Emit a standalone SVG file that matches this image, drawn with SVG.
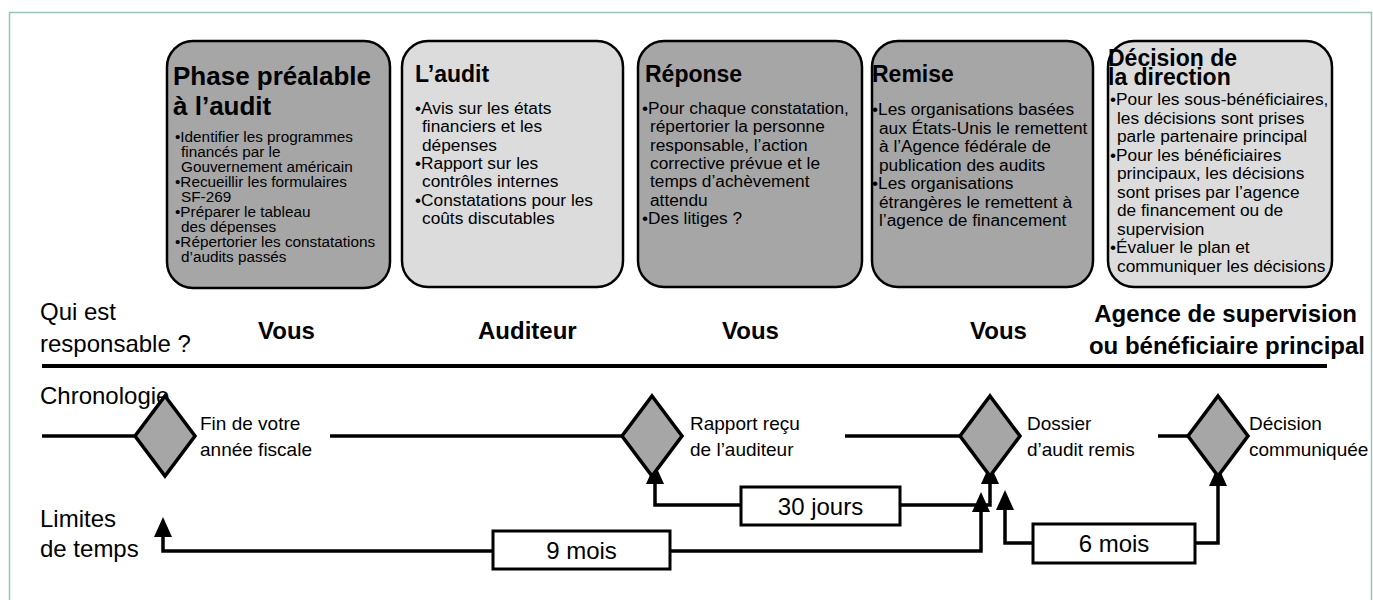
<svg xmlns="http://www.w3.org/2000/svg" width="1373" height="600" viewBox="0 0 1373 600">
<style>
text{font-family:"Liberation Sans",Arial,Helvetica,sans-serif;fill:#000}
.box{stroke:#000;stroke-width:2.5}
.dark{fill:#a6a6a6}
.light{fill:#dcdcdc}
.title{font-weight:bold;font-size:23px}
.b1{font-size:15.3px}
.bt{font-size:17.3px}
.lab{font-size:24px}
.who{font-size:24px;font-weight:bold}
.ev{font-size:19px}
.conn{fill:none;stroke:#000;stroke-width:3.5}
.dia{fill:#a6a6a6;stroke:#000;stroke-width:3.5;stroke-linejoin:miter}
.tbox{fill:#fff;stroke:#000;stroke-width:3}
.tl{font-size:24px;text-anchor:middle}
</style>
<defs>
<marker id="ah" viewBox="0 0 20 18" markerWidth="20" markerHeight="18" refX="2" refY="9" orient="auto-start-reverse" markerUnits="userSpaceOnUse">
<path d="M0,0 L20,9 L0,18 z" fill="#000"/>
</marker>
</defs>
<rect x="9.5" y="12.5" width="1362" height="620" fill="none" stroke="#8fc7bf" stroke-width="1.5"/>

<g id="phase">
<rect class="box dark" x="167" y="41" width="223" height="247" rx="26"/>
<text class="title" style="font-size:26px"><tspan x="173" y="85">Phase préalable</tspan><tspan x="173" y="115">à l’audit</tspan></text>
<text class="b1"><tspan x="175" y="142">•Identifier les programmes</tspan><tspan x="181" y="157">financés par le</tspan><tspan x="181" y="172">Gouvernement américain</tspan><tspan x="175" y="187">•Recueillir les formulaires</tspan><tspan x="181" y="202">SF-269</tspan><tspan x="175" y="217">•Préparer le tableau</tspan><tspan x="181" y="232">des dépenses</tspan><tspan x="175" y="247">•Répertorier les constatations</tspan><tspan x="181" y="262">d’audits passés</tspan></text>
</g>

<g id="audit">
<rect class="box light" x="402" y="41" width="221" height="246" rx="26"/>
<text class="title" x="415" y="82">L’audit</text>
<text class="bt"><tspan x="415" y="114">•Avis sur les états</tspan><tspan x="422" y="132.3">financiers et les</tspan><tspan x="422" y="150.6">dépenses</tspan><tspan x="415" y="168.9">•Rapport sur les</tspan><tspan x="422" y="187.2">contrôles internes</tspan><tspan x="415" y="205.5">•Constatations pour les</tspan><tspan x="422" y="223.8">coûts discutables</tspan></text>
</g>

<g id="reponse">
<rect class="box dark" x="638" y="41" width="224" height="246" rx="26"/>
<text class="title" x="645" y="82">Réponse</text>
<text class="bt"><tspan x="642" y="114">•Pour chaque constatation,</tspan><tspan x="650" y="132.3">répertorier la personne</tspan><tspan x="650" y="150.6">responsable, l’action</tspan><tspan x="650" y="168.9">corrective prévue et le</tspan><tspan x="650" y="187.2">temps d’achèvement</tspan><tspan x="650" y="205.5">attendu</tspan><tspan x="642" y="223.8">•Des litiges ?</tspan></text>
</g>

<g id="remise">
<rect class="box dark" x="872" y="41" width="221" height="246" rx="26"/>
<text class="title" x="872" y="82">Remise</text>
<text class="bt"><tspan x="872" y="115">•Les organisations basées</tspan><tspan x="879" y="133.5">aux États-Unis le remettent</tspan><tspan x="879" y="152">à l’Agence fédérale de</tspan><tspan x="879" y="170.5">publication des audits</tspan><tspan x="872" y="189">•Les organisations</tspan><tspan x="879" y="207.5">étrangères le remettent à</tspan><tspan x="879" y="226">l’agence de financement</tspan></text>
</g>

<g id="decision">
<rect class="box light" x="1108" y="41" width="224" height="246" rx="26"/>
<text class="title"><tspan x="1108" y="66">Décision de</tspan><tspan x="1108" y="85">la direction</tspan></text>
<text class="bt"><tspan x="1110" y="105">•Pour les sous-bénéficiaires,</tspan><tspan x="1117" y="123.5">les décisions sont prises</tspan><tspan x="1117" y="142">parle partenaire principal</tspan><tspan x="1110" y="160.5">•Pour les bénéficiaires</tspan><tspan x="1117" y="179">principaux, les décisions</tspan><tspan x="1117" y="197.5">sont prises par l’agence</tspan><tspan x="1117" y="216">de financement ou de</tspan><tspan x="1117" y="234.5">supervision</tspan><tspan x="1110" y="253">•Évaluer le plan et</tspan><tspan x="1117" y="271.5">communiquer les décisions</tspan></text>
</g>

<g id="responsables">
<text class="lab"><tspan x="40" y="320">Qui est</tspan><tspan x="40" y="352">responsable ?</tspan></text>
<text class="who" x="258" y="339">Vous</text>
<text class="who" x="478" y="339">Auditeur</text>
<text class="who" x="722" y="339">Vous</text>
<text class="who" x="970" y="339">Vous</text>
<text class="who" text-anchor="end"><tspan x="1357" y="322">Agence de supervision</tspan><tspan x="1365" y="354">ou bénéficiaire principal</tspan></text>
<line x1="42" y1="366" x2="1327" y2="366" stroke="#000" stroke-width="4"/>
</g>

<g id="chronologie">
<text class="lab" x="40" y="404">Chronologie</text>
<text class="lab"><tspan x="40" y="527">Limites</tspan><tspan x="40" y="557">de temps</tspan></text>
</g>

<g id="connectors">
<line class="conn" x1="42" y1="436" x2="135" y2="436"/>
<line class="conn" x1="330" y1="436" x2="622" y2="436"/>
<line class="conn" x1="845" y1="436" x2="960" y2="436"/>
<line class="conn" x1="1158" y1="436" x2="1188" y2="436"/>
<path class="conn" d="M655,482 V505 H990 V482" marker-start="url(#ah)" marker-end="url(#ah)"/>
<path class="conn" d="M163,535 V551 H981 V510" marker-start="url(#ah)" marker-end="url(#ah)"/>
<path class="conn" d="M1005,508 V543 H1218 V484" marker-start="url(#ah)" marker-end="url(#ah)"/>
</g>

<g id="ev1">
<polygon class="dia" points="165,396 195,436 165,476 135,436"/>
<text class="ev"><tspan x="200" y="430">Fin de votre</tspan><tspan x="200" y="456">année fiscale</tspan></text>
</g>
<g id="ev2">
<polygon class="dia" points="652,396 682,436 652,476 622,436"/>
<text class="ev"><tspan x="690" y="430">Rapport reçu</tspan><tspan x="690" y="456">de l’auditeur</tspan></text>
</g>
<g id="ev3">
<polygon class="dia" points="990,396 1020,436 990,476 960,436"/>
<text class="ev"><tspan x="1027" y="430">Dossier</tspan><tspan x="1027" y="456">d’audit remis</tspan></text>
</g>
<g id="ev4">
<polygon class="dia" points="1218,396 1248,436 1218,476 1188,436"/>
<text class="ev"><tspan x="1249" y="430">Décision</tspan><tspan x="1249" y="456">communiquée</tspan></text>
</g>

<g id="d30">
<rect class="tbox" x="741" y="487" width="159" height="38"/>
<text class="tl" x="820.5" y="514.5">30 jours</text>
</g>
<g id="d9">
<rect class="tbox" x="493" y="531" width="177" height="38"/>
<text class="tl" x="581.5" y="558.5">9 mois</text>
</g>
<g id="d6">
<rect class="tbox" x="1033" y="524" width="162" height="39"/>
<text class="tl" x="1114" y="552">6 mois</text>
</g>
</svg>
